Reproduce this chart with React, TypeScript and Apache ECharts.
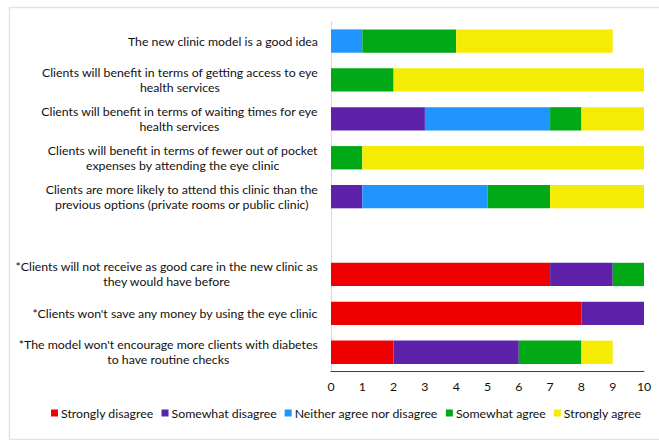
import React, { useEffect, useRef } from "react";
import * as echarts from "echarts";

const categories = [
  "The new clinic model is a good idea",
  "Clients will benefit in terms of getting access to eye\nhealth services",
  "Clients will benefit in terms of waiting times for eye\nhealth services",
  "Clients will benefit in terms of fewer out of pocket\nexpenses by attending the eye clinic",
  "Clients are more likely to attend this clinic than the\nprevious options (private rooms or public clinic)",
  "",
  "*Clients will not receive as good care in the new clinic as\nthey would have before",
  "*Clients won't save any money by using the eye clinic",
  "*The model won't encourage more clients with diabetes\nto have routine checks",
];

const seriesNames = [
  "Strongly disagree",
  "Somewhat disagree",
  "Neither agree nor disagree",
  "Somewhat agree",
  "Strongly agree",
];

const stronglyDisagree = [0, 0, 0, 0, 0, 0, 7, 8, 2];
const somewhatDisagree = [0, 0, 3, 0, 1, 0, 2, 2, 4];
const neither = [1, 0, 4, 0, 4, 0, 0, 0, 0];
const somewhatAgree = [3, 2, 1, 1, 2, 0, 1, 0, 2];
const stronglyAgree = [5, 8, 2, 9, 3, 0, 0, 0, 1];

const xTicks = { min: 0, max: 10, interval: 1 };

const colors = ["#ee0000", "#5e22aa", "#2095fe", "#01a917", "#f5ec06"];

export default function App() {
  const ref = useRef<HTMLDivElement>(null);
  useEffect(() => {
    if (!ref.current) return;
    const chart = echarts.init(ref.current, undefined, { renderer: "svg" });
    const values = [stronglyDisagree, somewhatDisagree, neither, somewhatAgree, stronglyAgree];
    const font = "Lato";
    const fs = 12.3;
    chart.setOption({
      animation: false,
      color: colors,
      graphic: [
        {
          type: "rect",
          left: 7,
          top: 5,
          shape: { width: 660, height: 432 },
          style: { fill: "none", stroke: "#e3e3e3", lineWidth: 1.5 },
          silent: true,
        },
      ],
      grid: { left: 331, right: 15, top: 21.6, bottom: 68.3, containLabel: false },
      legend: {
        bottom: 16,
        left: 46,
        itemWidth: 7,
        itemHeight: 7,
        itemGap: 8,
        icon: "rect",
        textStyle: { fontFamily: font, fontSize: fs, color: "#111", padding: [0, 0, 0, -2] },
        data: seriesNames,
      },
      xAxis: {
        type: "value",
        min: xTicks.min,
        max: xTicks.max,
        interval: xTicks.interval,
        axisLine: { show: true, lineStyle: { color: "#404040", width: 1 } },
        axisTick: { show: false },
        splitLine: { show: false },
        axisLabel: { fontFamily: font, fontSize: fs, color: "#111", margin: 9 },
      },
      yAxis: {
        type: "category",
        inverse: true,
        data: categories,
        axisLine: { show: true, lineStyle: { color: "#d9d9d9", width: 1 } },
        axisTick: { show: false },
        axisLabel: {
          margin: 13,
          fontFamily: font,
          fontSize: fs,
          color: "#111",
          lineHeight: 15,
          formatter: (v: string) =>
            v === "" ? "" : v.split("\n").map((l) => `{c|${l}}`).join("\n"),
          rich: {
            c: { align: "center", fontFamily: font, fontSize: fs, color: "#111", lineHeight: 15 },
          },
        },
      },
      series: seriesNames.map((name, i) => ({
        name,
        type: "bar",
        stack: "total",
        barCategoryGap: "40%",
        data: values[i],
        itemStyle: { color: colors[i] },
      })),
    });
    return () => chart.dispose();
  }, []);
  return (
    <div
      ref={ref}
      style={{ position: "fixed", left: 0, top: 0, width: 659, height: 440, background: "#fff" }}
    />
  );
}
